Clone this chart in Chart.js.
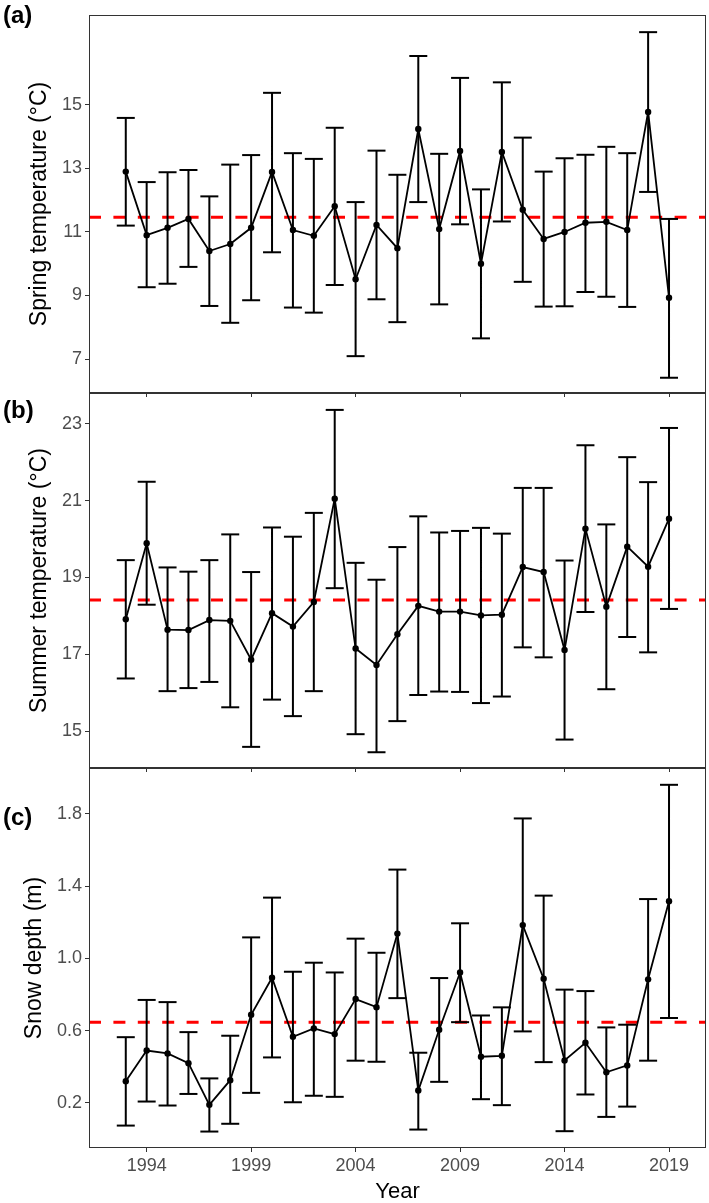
<!DOCTYPE html>
<html>
<head>
<meta charset="utf-8">
<script src="https://cdn.jsdelivr.net/npm/chart.js@4.4.0/dist/chart.umd.min.js"></script>
<style>
  body { margin: 0; background: #fff; width: 709px; height: 1203px; position: relative; overflow: hidden; }
  canvas { position: absolute; left: 0; }
  .rotulo { position: absolute; left: 3px; font: bold 24px "Liberation Sans", Arial, sans-serif; line-height: 24px; color: #000; }
</style>
</head>
<body>
<canvas id="painelA" width="709" height="397" style="top:0px"></canvas>
<canvas id="painelB" width="709" height="379" style="top:393px"></canvas>
<canvas id="painelC" width="709" height="435" style="top:768px"></canvas>
<div class="rotulo" style="top:3px">(a)</div>
<div class="rotulo" style="top:398px">(b)</div>
<div class="rotulo" style="top:805px">(c)</div>
<script>
// ==========================
// DADOS
// ==========================
const anos = [1993, 1994, 1995, 1996, 1997, 1998, 1999, 2000, 2001, 2002, 2003, 2004, 2005, 2006,
  2007, 2008, 2009, 2010, 2011, 2012, 2013, 2014, 2015, 2016, 2017, 2018, 2019];
const anosTicks = [1994, 1999, 2004, 2009, 2014, 2019];

const primaveraMedia = [12.90, 10.90, 11.13, 11.41, 10.40, 10.62, 11.13, 12.89, 11.06, 10.88, 11.81, 9.51, 11.22, 10.49,
  14.24, 11.09, 13.55, 10.00, 13.52, 11.70, 10.78, 11.00, 11.29, 11.32, 11.06, 14.78, 8.93];
const primaveraMin = [11.20, 9.26, 9.37, 9.90, 8.67, 8.14, 8.85, 10.36, 8.62, 8.46, 9.33, 7.09, 8.88, 8.16,
  11.94, 8.72, 11.24, 7.65, 11.33, 9.43, 8.65, 8.66, 9.11, 8.96, 8.64, 12.26, 6.41];
const primaveraMax = [14.59, 12.57, 12.88, 12.95, 12.12, 13.12, 13.42, 15.38, 13.48, 13.30, 14.28, 11.94, 13.56, 12.80,
  16.54, 13.46, 15.85, 12.34, 15.71, 13.97, 12.90, 13.32, 13.43, 13.68, 13.48, 17.29, 11.41];
const primaveraRef = 11.46;
const primaveraTicks = [7, 9, 11, 13, 15];

const veraoMedia = [17.91, 19.89, 17.64, 17.63, 17.89, 17.87, 16.86, 18.07, 17.72, 18.36, 21.05, 17.15, 16.72, 17.52,
  18.26, 18.11, 18.11, 18.01, 18.03, 19.27, 19.14, 17.11, 20.27, 18.24, 19.80, 19.28, 20.53];
const veraoMin = [16.37, 18.29, 16.04, 16.12, 16.28, 15.62, 14.59, 15.82, 15.39, 16.04, 18.72, 14.92, 14.45, 15.26,
  15.94, 16.03, 16.02, 15.73, 15.90, 17.18, 16.92, 14.78, 18.10, 16.09, 17.45, 17.05, 18.18];
const veraoMax = [19.45, 21.49, 19.26, 19.15, 19.45, 20.12, 19.14, 20.30, 20.06, 20.68, 23.36, 19.38, 18.94, 19.79,
  20.59, 20.17, 20.21, 20.29, 20.14, 21.33, 21.33, 19.44, 22.44, 20.38, 22.13, 21.48, 22.89];
const veraoRef = 18.41;
const veraoTicks = [15, 17, 19, 21, 23];

const neveMedia = [0.320, 0.490, 0.474, 0.420, 0.190, 0.326, 0.688, 0.893, 0.566, 0.612, 0.581, 0.775, 0.730, 1.137,
  0.269, 0.605, 0.922, 0.456, 0.461, 1.184, 0.887, 0.435, 0.533, 0.370, 0.408, 0.884, 1.316];
const neveMin = [0.075, 0.208, 0.186, 0.250, 0.042, 0.085, 0.256, 0.452, 0.204, 0.240, 0.234, 0.434, 0.428, 0.780,
  0.053, 0.317, 0.647, 0.221, 0.188, 0.596, 0.426, 0.044, 0.247, 0.123, 0.180, 0.434, 0.670];
const neveMax = [0.564, 0.770, 0.758, 0.592, 0.336, 0.572, 1.116, 1.336, 0.926, 0.976, 0.922, 1.109, 1.031, 1.491,
  0.478, 0.891, 1.194, 0.684, 0.729, 1.774, 1.347, 0.827, 0.819, 0.618, 0.633, 1.328, 1.960];
const neveRef = 0.647;
const neveTicks = [0.2, 0.6, 1.0, 1.4, 1.8];

// ==========================
// CONFIG
// ==========================
const FONTE = '"Liberation Sans", Arial, sans-serif';
const X_MIN = 1991.24, X_MAX = 2020.77;

const moldura = {
  id: 'moldura',
  afterDraw(chart) {
    const a = chart.chartArea, ctx = chart.ctx;
    ctx.save();
    ctx.strokeStyle = '#333333';
    ctx.lineWidth = 1;
    ctx.strokeRect(a.left + 0.5, a.top + 0.5, a.right - a.left - 1, a.bottom - a.top - 1);
    ctx.restore();
  }
};

// tira o padding automático que o Chart.js reserva p/ os rótulos
function semPadding(s) {
  s.paddingTop = 0; s.paddingBottom = 0; s.paddingLeft = 0; s.paddingRight = 0;
}

function criarPainel(id, p) {
  const barras = [];
  anos.forEach((a, i) => {
    barras.push({ x: a, y: p.min[i] }, { x: a, y: p.max[i] }, { x: a, y: null });
  });
  const caps = anos.map((a, i) => ({ x: a, y: p.min[i] }))
    .concat(anos.map((a, i) => ({ x: a, y: p.max[i] })));

  return new Chart(document.getElementById(id), {
    type: 'scatter',
    data: {
      datasets: [
        {
          data: anos.map((a, i) => ({ x: a, y: p.media[i] })),
          showLine: true, borderColor: '#000', borderWidth: 1.8,
          pointRadius: 3.2, pointBackgroundColor: '#000', pointBorderWidth: 0
        },
        {
          data: caps, showLine: false, pointStyle: 'line', pointRadius: 9,
          pointBorderColor: '#000', pointBorderWidth: 2
        },
        {
          data: barras, showLine: true, spanGaps: false, borderColor: '#000', borderWidth: 2,
          pointRadius: 0
        },
        {
          data: [{ x: X_MIN, y: p.ref }, { x: X_MAX, y: p.ref }],
          showLine: true, borderColor: '#ff0000', borderWidth: 3, borderDash: [12, 12.4],
          pointRadius: 0
        }
      ]
    },
    options: {
      responsive: false,
      animation: false,
      layout: { autoPadding: false, padding: { top: p.topo, right: 3, left: 0, bottom: 0 } },
      plugins: { legend: { display: false }, tooltip: { enabled: false } },
      scales: {
        x: {
          type: 'linear', min: X_MIN, max: X_MAX,
          afterBuildTicks: s => { s.ticks = anosTicks.map(v => ({ value: v })); },
          afterFit: s => { s.height = p.alturaX; semPadding(s); },
          grid: { drawOnChartArea: false, drawTicks: true, tickLength: 4, color: '#333333' },
          border: { display: false },
          ticks: {
            display: p.rotulosX, color: '#4d4d4d', padding: 3,
            font: { family: FONTE, size: 18 },
            callback: v => String(v)
          },
          title: {
            display: p.rotulosX, text: 'Year', color: '#000',
            font: { family: FONTE, size: 22, lineHeight: 1 }, padding: { top: 0, bottom: 0 }
          }
        },
        y: {
          min: p.yMin, max: p.yMax,
          afterBuildTicks: s => { s.ticks = p.ticks.map(v => ({ value: v })); },
          afterFit: s => { s.width = 89; semPadding(s); },
          grid: { drawOnChartArea: false, drawTicks: true, tickLength: 4, color: '#333333' },
          border: { display: false },
          ticks: {
            color: '#4d4d4d', padding: 3, font: { family: FONTE, size: 18 },
            callback: v => p.decimais ? v.toFixed(p.decimais) : String(v)
          },
          title: {
            display: true, text: p.titulo, color: '#000',
            font: { family: FONTE, size: 23, lineHeight: 1 }, padding: { top: p.tituloPad, bottom: 0 }
          }
        }
      }
    },
    plugins: [moldura]
  });
}

// ==========================
// INICIALIZAÇÃO
// ==========================
criarPainel('painelA', {
  media: primaveraMedia, min: primaveraMin, max: primaveraMax, ref: primaveraRef,
  ticks: primaveraTicks, yMin: 5.93, yMax: 17.83, titulo: 'Spring temperature (°C)',
  topo: 15, alturaX: 4, rotulosX: false, tituloPad: 28.5, decimais: 0
});
criarPainel('painelB', {
  media: veraoMedia, min: veraoMin, max: veraoMax, ref: veraoRef,
  ticks: veraoTicks, yMin: 14.04, yMax: 23.8, titulo: 'Summer temperature (°C)',
  topo: 0, alturaX: 4, rotulosX: false, tituloPad: 28.5, decimais: 0
});
criarPainel('painelC', {
  media: neveMedia, min: neveMin, max: neveMax, ref: neveRef,
  ticks: neveTicks, yMin: -0.049, yMax: 2.053, titulo: 'Snow depth (m)',
  topo: 0, alturaX: 55, rotulosX: true, tituloPad: 23.5, decimais: 1
});
</script>
</body>
</html>
